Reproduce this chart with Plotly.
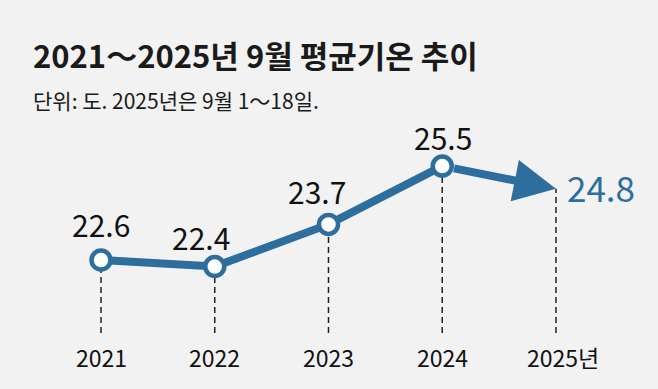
import plotly.graph_objects as go

# ---- data ----
years = [2021, 2022, 2023, 2024, 2025]
temps = [22.6, 22.4, 23.7, 25.5, 24.8]
tick_labels = ["2021", "2022", "2023", "2024", "2025년"]
value_labels = ["22.6", "22.4", "23.7", "25.5", "24.8"]
title_text = "2021～2025년 9월 평균기온 추이"
subtitle_text = "단위: 도. 2025년은 9월 1～18일."

# ---- style ----
BG = "#f2f2f2"
BLUE = "#2e6e9e"
FONT = "Noto Sans CJK KR, sans-serif"
axis_floor = 20.35          # bottom end of the dashed guide lines
label_y = 19.6              # year label row
label_dx = [0, -14, -11, 1]
label_dy = [36, 30, 33, 29]

fig = go.Figure()

# dashed guide lines
for yr, t in zip(years, temps):
    fig.add_trace(go.Scatter(
        x=[yr, yr], y=[axis_floor, t], mode="lines",
        line=dict(color="#222222", width=1.5, dash="6px,4px"),
        hoverinfo="skip", showlegend=False))

# main line with markers (actual full-month values)
fig.add_trace(go.Scatter(
    x=years[:4], y=temps[:4], mode="lines+markers",
    line=dict(color=BLUE, width=8),
    marker=dict(size=19, color="white", line=dict(color=BLUE, width=4.5)),
    hoverinfo="skip", showlegend=False))

# arrow to partial 2025 value
fig.add_annotation(
    x=years[4], y=temps[4], ax=years[3], ay=temps[3],
    xref="x", yref="y", axref="x", ayref="y",
    text="", showarrow=True, arrowhead=2, arrowsize=1.05,
    arrowwidth=8, arrowcolor=BLUE, standoff=0, startstandoff=10.5)

# value labels
for i in range(4):
    fig.add_annotation(
        x=years[i], y=temps[i], text=value_labels[i], showarrow=False,
        xshift=label_dx[i], yshift=label_dy[i], yanchor="middle",
        font=dict(family=FONT, size=30, color="#111111"))
fig.add_annotation(
    x=years[4], y=temps[4], text=value_labels[4], showarrow=False,
    xanchor="left", yanchor="middle", xshift=9, yshift=2,
    font=dict(family=FONT, size=35, color=BLUE))

# year tick labels
for yr, lab in zip(years, tick_labels):
    fig.add_annotation(
        x=yr, y=label_y, text=lab, showarrow=False, yanchor="middle",
        xshift=(7 if lab.endswith("년") else 0),
        font=dict(family=FONT, size=23, color="#111111"))

# title & subtitle
fig.add_annotation(
    x=31 / 658, y=1 - 54 / 389, xref="paper", yref="paper",
    xanchor="left", yanchor="middle", showarrow=False,
    text="<b>" + title_text + "</b>",
    font=dict(family=FONT, size=31, color="#1a1a1a"))
fig.add_annotation(
    x=31 / 658, y=1 - 100 / 389, xref="paper", yref="paper",
    xanchor="left", yanchor="middle", showarrow=False,
    text=subtitle_text,
    font=dict(family=FONT, size=21, color="#1a1a1a"))

fig.update_layout(
    width=658, height=389,
    margin=dict(l=0, r=0, t=0, b=0),
    paper_bgcolor=BG, plot_bgcolor=BG,
    xaxis=dict(range=[2020.112, 2025.897], visible=False, fixedrange=True),
    yaxis=dict(range=[18.62, 30.625], visible=False, fixedrange=True),
    showlegend=False,
)

fig.write_html(
    "out.html",
    config={"displayModeBar": False},
    post_script="document.body.style.margin='0';document.body.style.background='#f2f2f2';",
)
